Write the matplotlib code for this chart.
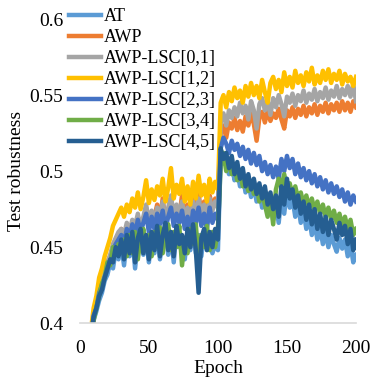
import numpy as np
import matplotlib
matplotlib.use("Agg")
import matplotlib.pyplot as plt

plt.rcParams["font.family"] = "serif"
plt.rcParams["font.serif"] = ["Liberation Serif", "DejaVu Serif"]

# epochs sampled every 2
epochs = np.arange(0, 201, 2)

labels = ["AT", "AWP", "AWP-LSC[0,1]", "AWP-LSC[1,2]", "AWP-LSC[2,3]", "AWP-LSC[3,4]", "AWP-LSC[4,5]"]
colors = ["#5B9BD5", "#ED7D31", "#A5A5A5", "#FFC000", "#4472C4", "#70AD47", "#255E91"]

at = [0.30, 0.33, 0.35, 0.37, 0.388, 0.402, 0.408, 0.415, 0.42, 0.428, 0.432, 0.44, 0.436, 0.448, 0.442, 0.452,
      0.438, 0.455, 0.444, 0.458, 0.436, 0.454, 0.46, 0.445, 0.456, 0.44, 0.458, 0.446, 0.462, 0.442, 0.456, 0.464,
      0.445, 0.458, 0.44, 0.462, 0.45, 0.456, 0.442, 0.46, 0.448, 0.462, 0.446, 0.458, 0.444, 0.46, 0.45, 0.456,
      0.446, 0.452, 0.448,
      0.51, 0.505, 0.508, 0.498, 0.505, 0.494, 0.5, 0.49, 0.497, 0.486, 0.493, 0.483, 0.49, 0.48, 0.487, 0.476,
      0.484, 0.472, 0.48, 0.468, 0.478, 0.466, 0.484, 0.472, 0.488, 0.476, 0.482, 0.47, 0.478, 0.466, 0.474, 0.462,
      0.47, 0.458, 0.466, 0.455, 0.463, 0.452, 0.46, 0.45, 0.458, 0.452, 0.447, 0.456, 0.449, 0.455, 0.444, 0.452,
      0.44, 0.445]

awp = [0.30, 0.33, 0.35, 0.37, 0.39, 0.403, 0.414, 0.42, 0.428, 0.434, 0.44, 0.444, 0.45, 0.455, 0.458, 0.462,
       0.456, 0.464, 0.46, 0.466, 0.462, 0.47, 0.464, 0.468, 0.476, 0.466, 0.472, 0.47, 0.478, 0.468, 0.482, 0.466,
       0.474, 0.482, 0.468, 0.476, 0.47, 0.484, 0.468, 0.478, 0.466, 0.482, 0.472, 0.486, 0.47, 0.48, 0.47, 0.484,
       0.476, 0.482, 0.478,
       0.525, 0.53, 0.522, 0.532, 0.528, 0.535, 0.527, 0.533, 0.526, 0.536, 0.53, 0.538, 0.531, 0.52, 0.535, 0.539,
       0.532, 0.54, 0.533, 0.538, 0.535, 0.541, 0.534, 0.528, 0.54, 0.536, 0.542, 0.535, 0.541, 0.537, 0.543, 0.536,
       0.542, 0.538, 0.544, 0.537, 0.543, 0.539, 0.545, 0.538, 0.544, 0.54, 0.545, 0.539, 0.546, 0.54, 0.545, 0.539,
       0.546, 0.542]

lsc01 = [0.30, 0.33, 0.35, 0.37, 0.392, 0.405, 0.415, 0.424, 0.43, 0.436, 0.44, 0.445, 0.452, 0.456, 0.46, 0.462,
         0.458, 0.466, 0.46, 0.468, 0.464, 0.472, 0.462, 0.47, 0.478, 0.466, 0.474, 0.468, 0.476, 0.47, 0.48, 0.468,
         0.476, 0.484, 0.47, 0.478, 0.472, 0.48, 0.468, 0.476, 0.466, 0.48, 0.47, 0.482, 0.472, 0.478, 0.468, 0.482,
         0.474, 0.48, 0.476,
         0.532, 0.538, 0.53, 0.54, 0.535, 0.542, 0.536, 0.545, 0.538, 0.543, 0.534, 0.546, 0.54, 0.528, 0.544, 0.548,
         0.54, 0.546, 0.537, 0.548, 0.542, 0.55, 0.544, 0.536, 0.549, 0.545, 0.551, 0.543, 0.55, 0.546, 0.553, 0.545,
         0.551, 0.547, 0.554, 0.546, 0.552, 0.548, 0.555, 0.547, 0.553, 0.549, 0.556, 0.548, 0.554, 0.55, 0.556, 0.549,
         0.557, 0.546]

lsc12 = [0.30, 0.33, 0.35, 0.37, 0.395, 0.41, 0.418, 0.43, 0.436, 0.444, 0.45, 0.456, 0.464, 0.468, 0.472, 0.476,
         0.47, 0.478, 0.473, 0.482, 0.476, 0.486, 0.475, 0.483, 0.494, 0.479, 0.488, 0.481, 0.49, 0.484, 0.495, 0.48,
         0.489, 0.502, 0.482, 0.491, 0.485, 0.495, 0.48, 0.49, 0.478, 0.493, 0.482, 0.497, 0.484, 0.491, 0.48, 0.495,
         0.486, 0.493, 0.488,
         0.545, 0.55, 0.542, 0.552, 0.546, 0.555, 0.548, 0.553, 0.545, 0.556, 0.549, 0.558, 0.55, 0.556, 0.548, 0.56,
         0.552, 0.545, 0.558, 0.562, 0.554, 0.56, 0.552, 0.565, 0.556, 0.562, 0.555, 0.566, 0.558, 0.563, 0.556, 0.565,
         0.559, 0.568, 0.557, 0.563, 0.558, 0.566, 0.56, 0.567, 0.558, 0.564, 0.56, 0.566, 0.557, 0.564, 0.559, 0.562,
         0.556, 0.562]

lsc23 = [0.30, 0.33, 0.35, 0.37, 0.39, 0.405, 0.41, 0.42, 0.425, 0.43, 0.436, 0.44, 0.448, 0.452, 0.455, 0.458,
         0.452, 0.462, 0.456, 0.465, 0.458, 0.468, 0.46, 0.466, 0.472, 0.46, 0.47, 0.462, 0.472, 0.465, 0.474, 0.462,
         0.47, 0.476, 0.464, 0.472, 0.466, 0.474, 0.462, 0.47, 0.46, 0.474, 0.466, 0.476, 0.464, 0.472, 0.462, 0.476,
         0.466, 0.472, 0.468,
         0.515, 0.522, 0.518, 0.512, 0.52, 0.514, 0.518, 0.51, 0.516, 0.508, 0.514, 0.505, 0.512, 0.504, 0.51, 0.5,
         0.506, 0.498, 0.504, 0.496, 0.503, 0.495, 0.508, 0.5, 0.51, 0.502, 0.508, 0.498, 0.505, 0.496, 0.502, 0.494,
         0.5, 0.492, 0.498, 0.49, 0.496, 0.488, 0.494, 0.486, 0.492, 0.485, 0.49, 0.483, 0.488, 0.48, 0.486, 0.478,
         0.484, 0.48]

lsc34 = [0.30, 0.33, 0.35, 0.37, 0.39, 0.402, 0.41, 0.418, 0.426, 0.43, 0.44, 0.438, 0.45, 0.445, 0.452, 0.448,
         0.455, 0.444, 0.458, 0.446, 0.46, 0.442, 0.456, 0.462, 0.448, 0.458, 0.444, 0.46, 0.45, 0.463, 0.446, 0.458,
         0.465, 0.448, 0.46, 0.45, 0.464, 0.438, 0.456, 0.446, 0.462, 0.452, 0.465, 0.44, 0.458, 0.45, 0.464, 0.448,
         0.46, 0.45, 0.462,
         0.505, 0.512, 0.5, 0.508, 0.498, 0.504, 0.494, 0.5, 0.49, 0.496, 0.487, 0.493, 0.485, 0.49, 0.48, 0.486,
         0.478, 0.47, 0.482, 0.465, 0.488, 0.495, 0.49, 0.498, 0.488, 0.492, 0.484, 0.49, 0.482, 0.486, 0.478, 0.484,
         0.476, 0.482, 0.474, 0.48, 0.472, 0.478, 0.47, 0.476, 0.468, 0.474, 0.466, 0.472, 0.464, 0.47, 0.462, 0.468,
         0.458, 0.462]

lsc45 = [0.30, 0.33, 0.35, 0.37, 0.39, 0.404, 0.41, 0.418, 0.422, 0.43, 0.436, 0.442, 0.44, 0.45, 0.444, 0.455,
         0.442, 0.458, 0.446, 0.46, 0.44, 0.456, 0.462, 0.446, 0.458, 0.442, 0.46, 0.448, 0.464, 0.444, 0.458, 0.466,
         0.448, 0.46, 0.444, 0.464, 0.452, 0.458, 0.446, 0.462, 0.45, 0.465, 0.448, 0.42, 0.456, 0.462, 0.448, 0.46,
         0.45, 0.462, 0.455,
         0.515, 0.508, 0.512, 0.502, 0.51, 0.498, 0.506, 0.495, 0.502, 0.49, 0.498, 0.488, 0.495, 0.485, 0.492, 0.482,
         0.49, 0.478, 0.486, 0.475, 0.484, 0.47, 0.49, 0.478, 0.495, 0.482, 0.488, 0.476, 0.484, 0.472, 0.48, 0.468,
         0.478, 0.465, 0.475, 0.462, 0.472, 0.46, 0.47, 0.458, 0.468, 0.462, 0.455, 0.466, 0.458, 0.464, 0.452, 0.462,
         0.448, 0.455]

series = [at, awp, lsc01, lsc12, lsc23, lsc34, lsc45]

fig = plt.figure(figsize=(3.82, 3.82), dpi=100)
ax = fig.add_axes([0.209, 0.154, 0.723, 0.796])

for vals, lab, col in zip(series, labels, colors):
    ax.plot(epochs, vals, color=col, lw=3.2, label=lab, solid_joinstyle="round")

ax.set_xlim(0, 200)
ax.set_ylim(0.4, 0.6)
ax.set_xticks([0, 50, 100, 150, 200])
ax.set_yticks([0.4, 0.45, 0.5, 0.55, 0.6])
ax.set_yticklabels(["0.4", "0.45", "0.5", "0.55", "0.6"])
ax.tick_params(length=0, labelsize=14)
ax.tick_params(axis="y", pad=12)
ax.tick_params(axis="x", pad=12)
for s in ["top", "right", "left"]:
    ax.spines[s].set_visible(False)
ax.spines["bottom"].set_color("#D9D9D9")
ax.spines["bottom"].set_linewidth(1.2)

ax.set_xlabel("Epoch", fontsize=14, labelpad=2)
ax.set_ylabel("Test robustness", fontsize=14, labelpad=3)

ax.legend(loc="upper left", bbox_to_anchor=(-0.04, 1.036), frameon=False, fontsize=13,
          handlelength=1.8, handletextpad=0.15, labelspacing=0.22, borderaxespad=0,
          borderpad=0)

fig.savefig("out.png", dpi=100)
